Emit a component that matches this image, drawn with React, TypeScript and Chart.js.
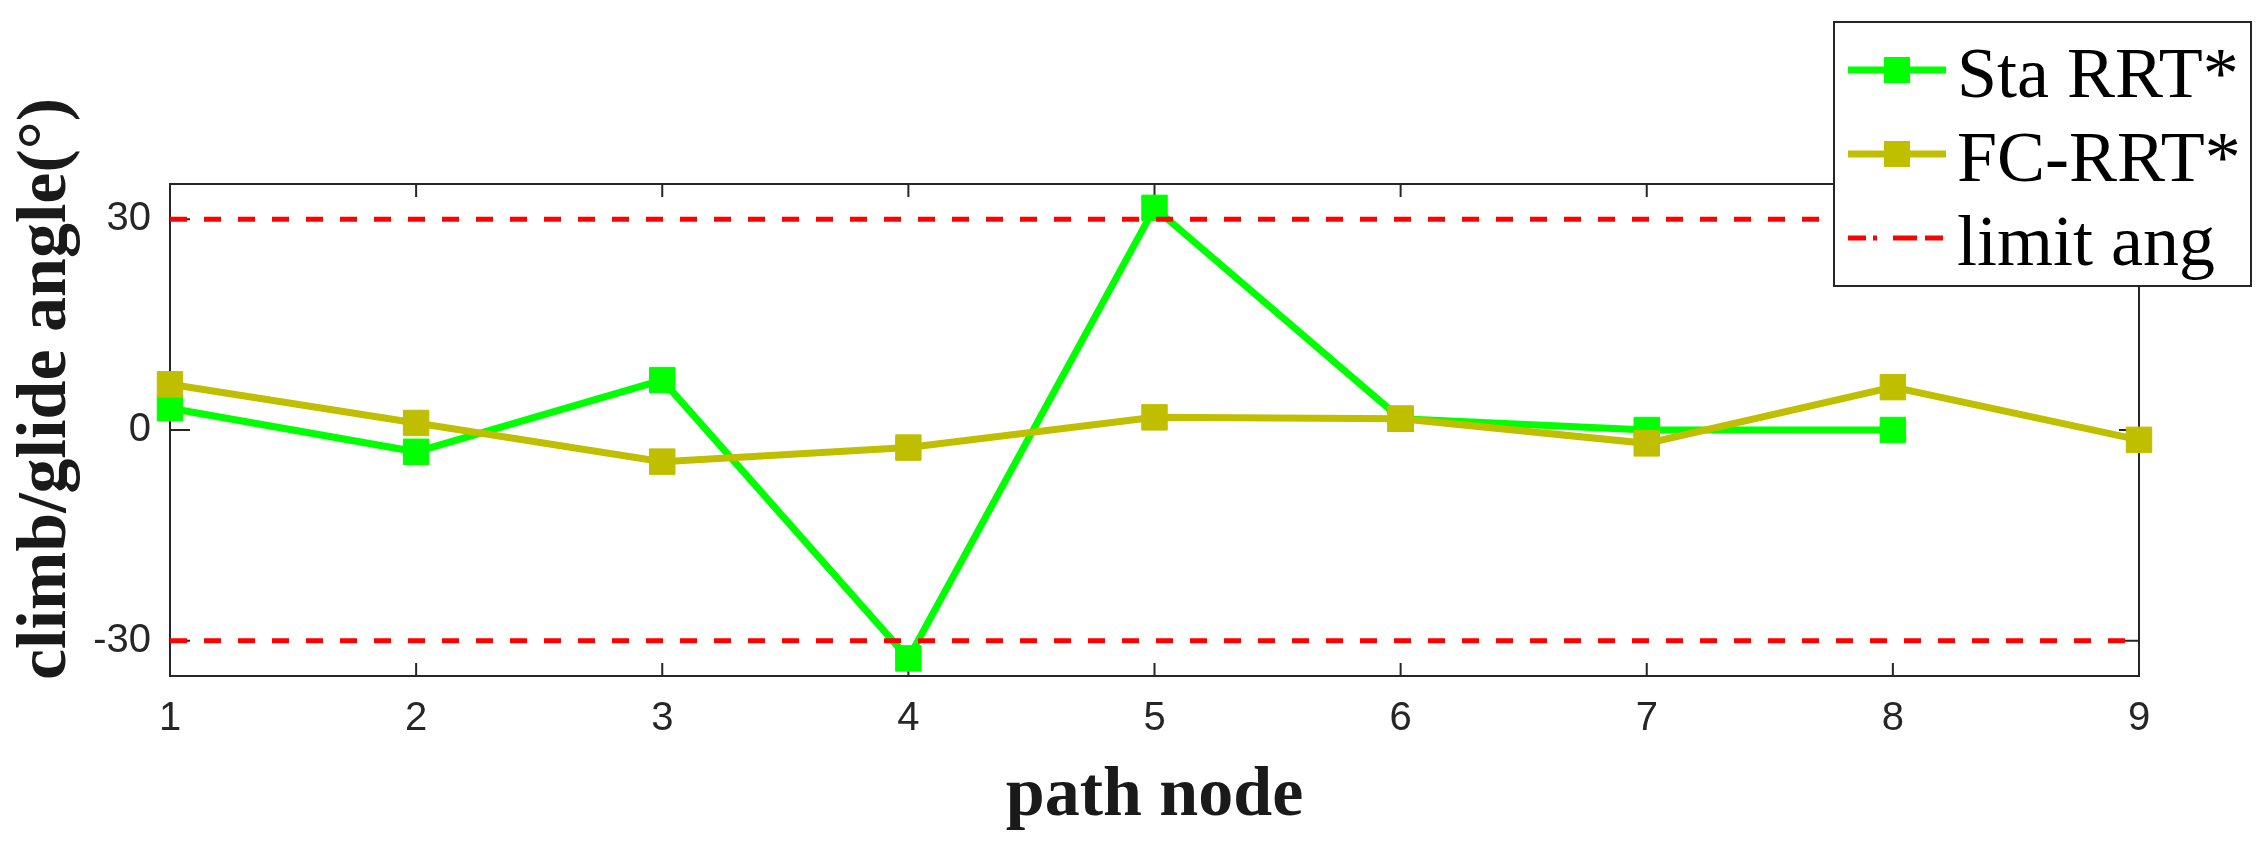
import React, { useEffect, useRef } from 'react';
import { Chart, registerables } from 'chart.js';

Chart.register(...registerables);

// ---- data ----
const nodes = [1, 2, 3, 4, 5, 6, 7, 8, 9];
const staRRT = [3.1, -3.1, 7.1, -32.5, 31.6, 1.6, 0, 0];
const fcRRT = [6.5, 1.0, -4.5, -2.5, 1.8, 1.6, -1.9, 6.1, -1.4];
const limitAngle = 30;
const xTickValues = [1, 2, 3, 4, 5, 6, 7, 8, 9];
const yTickValues = [-30, 0, 30];
const seriesLabels = ['Sta RRT*', 'FC-RRT*', 'limit ang'];
const xTitle = 'path node';
const yTitle = 'climb/glide angle(°)';

const GREEN = '#00ff00';
const OLIVE = '#bfbf00';
const RED = '#ff0000';
const AXIS = '#262626';

const framePlugin = {
  id: 'framePlugin',
  beforeDatasetsDraw(chart: any) {
    const { ctx, chartArea, scales } = chart;
    const { left, right, top, bottom } = chartArea;
    const x = scales.x;
    const y = scales.y;
    ctx.save();
    ctx.strokeStyle = AXIS;
    ctx.lineWidth = 2;
    ctx.strokeRect(left, top, right - left, bottom - top);
    ctx.beginPath();
    xTickValues.forEach((v) => {
      const px = x.getPixelForValue(v);
      ctx.moveTo(px, bottom);
      ctx.lineTo(px, bottom - 13);
      ctx.moveTo(px, top);
      ctx.lineTo(px, top + 13);
    });
    yTickValues.forEach((v) => {
      const py = y.getPixelForValue(v);
      ctx.moveTo(left, py);
      ctx.lineTo(left + 20, py);
      ctx.moveTo(right, py);
      ctx.lineTo(right - 20, py);
    });
    ctx.stroke();

    ctx.fillStyle = '#1a1a1a';
    ctx.textAlign = 'center';
    ctx.textBaseline = 'alphabetic';
    ctx.font = 'bold 70px "Liberation Serif"';
    ctx.fillText(xTitle, (left + right) / 2, 815);
    ctx.save();
    ctx.translate(65, 389);
    ctx.rotate(-Math.PI / 2);
    ctx.fillText(yTitle, 0, 0);
    ctx.restore();
    ctx.restore();
  },
  afterDraw(chart: any) {
    const { ctx } = chart;
    const bx = 1834, by = 22, bw = 2251 - 1834, bh = 286 - 22;
    ctx.save();
    ctx.fillStyle = '#ffffff';
    ctx.fillRect(bx, by, bw, bh);
    ctx.strokeStyle = AXIS;
    ctx.lineWidth = 2;
    ctx.strokeRect(bx, by, bw, bh);
    const rows = [70, 154, 238];
    const colors = [GREEN, OLIVE, RED];
    const x0 = 1848, x1 = 1946;
    rows.forEach((ry, i) => {
      ctx.beginPath();
      ctx.strokeStyle = colors[i];
      if (i < 2) {
        ctx.lineWidth = 7;
        ctx.setLineDash([]);
        ctx.moveTo(x0, ry);
        ctx.lineTo(x1, ry);
        ctx.stroke();
        ctx.fillStyle = colors[i];
        ctx.fillRect((x0 + x1) / 2 - 13, ry - 13, 26, 26);
      } else {
        ctx.lineWidth = 5;
        ctx.setLineDash([18, 7, 4, 16, 24, 8]);
        ctx.moveTo(x0, ry);
        ctx.lineTo(x1, ry);
        ctx.stroke();
        ctx.setLineDash([]);
      }
      ctx.fillStyle = '#000000';
      ctx.font = '72px "Liberation Serif"';
      ctx.textAlign = 'left';
      ctx.textBaseline = 'alphabetic';
      ctx.fillText(seriesLabels[i], 1957, ry + 27);
    });
    ctx.restore();
  },
};

export default function App() {
  const canvasRef = useRef<HTMLCanvasElement | null>(null);

  useEffect(() => {
    if (!canvasRef.current) return;
    const tickFont = { family: '"Liberation Sans", Arial, sans-serif', size: 40 };
    const chart = new Chart(canvasRef.current, {
      type: 'line',
      data: {
        datasets: [
          {
            label: seriesLabels[2],
            data: [
              { x: xTickValues[0], y: limitAngle },
              { x: xTickValues[xTickValues.length - 1], y: limitAngle },
            ],
            borderColor: RED,
            borderWidth: 5,
            borderDash: [17, 17],
            pointRadius: 0,
            order: 0,
          },
          {
            label: seriesLabels[2] + ' (lower)',
            data: [
              { x: xTickValues[0], y: -limitAngle },
              { x: xTickValues[xTickValues.length - 1], y: -limitAngle },
            ],
            borderColor: RED,
            borderWidth: 5,
            borderDash: [17, 17],
            pointRadius: 0,
            order: 0,
          },
          {
            label: seriesLabels[1],
            data: fcRRT.map((v, i) => ({ x: nodes[i], y: v })),
            borderColor: OLIVE,
            backgroundColor: OLIVE,
            borderWidth: 7,
            pointStyle: 'rect',
            pointRadius: 18,
            pointBorderWidth: 1,
            pointBorderColor: OLIVE,
            pointBackgroundColor: OLIVE,
            clip: false as any,
            order: 1,
          },
          {
            label: seriesLabels[0],
            data: staRRT.map((v, i) => ({ x: nodes[i], y: v })),
            borderColor: GREEN,
            backgroundColor: GREEN,
            borderWidth: 7,
            pointStyle: 'rect',
            pointRadius: 18,
            pointBorderWidth: 1,
            pointBorderColor: GREEN,
            pointBackgroundColor: GREEN,
            clip: false as any,
            order: 2,
          },
        ],
      },
      options: {
        animation: false,
        responsive: true,
        maintainAspectRatio: false,
        devicePixelRatio: 1,
        layout: { padding: { left: 0, top: 184, right: 127, bottom: 0 } },
        plugins: { legend: { display: false }, tooltip: { enabled: false } },
        elements: { line: { tension: 0 } },
        scales: {
          x: {
            type: 'linear',
            min: 1,
            max: 9,
            grid: { display: false, drawTicks: false },
            border: { display: false },
            ticks: {
              font: tickFont,
              color: AXIS,
              padding: 19,
              maxRotation: 0,
              autoSkip: false,
            },
            afterBuildTicks: (scale: any) => {
              scale.ticks = xTickValues.map((v) => ({ value: v }));
            },
            afterFit: (scale: any) => {
              scale.height = 171;
            },
          },
          y: {
            type: 'linear',
            min: -35,
            max: 35,
            grid: { display: false, drawTicks: false },
            border: { display: false },
            ticks: { font: tickFont, color: AXIS, padding: 19 },
            afterBuildTicks: (scale: any) => {
              scale.ticks = yTickValues.map((v) => ({ value: v }));
            },
            afterFit: (scale: any) => {
              scale.width = 170;
            },
          },
        },
      },
      plugins: [framePlugin],
    } as any);
    return () => chart.destroy();
  }, []);

  return (
    <div style={{ position: 'fixed', left: 0, top: 0, width: 2266, height: 847, background: '#fff' }}>
      <canvas ref={canvasRef} />
    </div>
  );
}
